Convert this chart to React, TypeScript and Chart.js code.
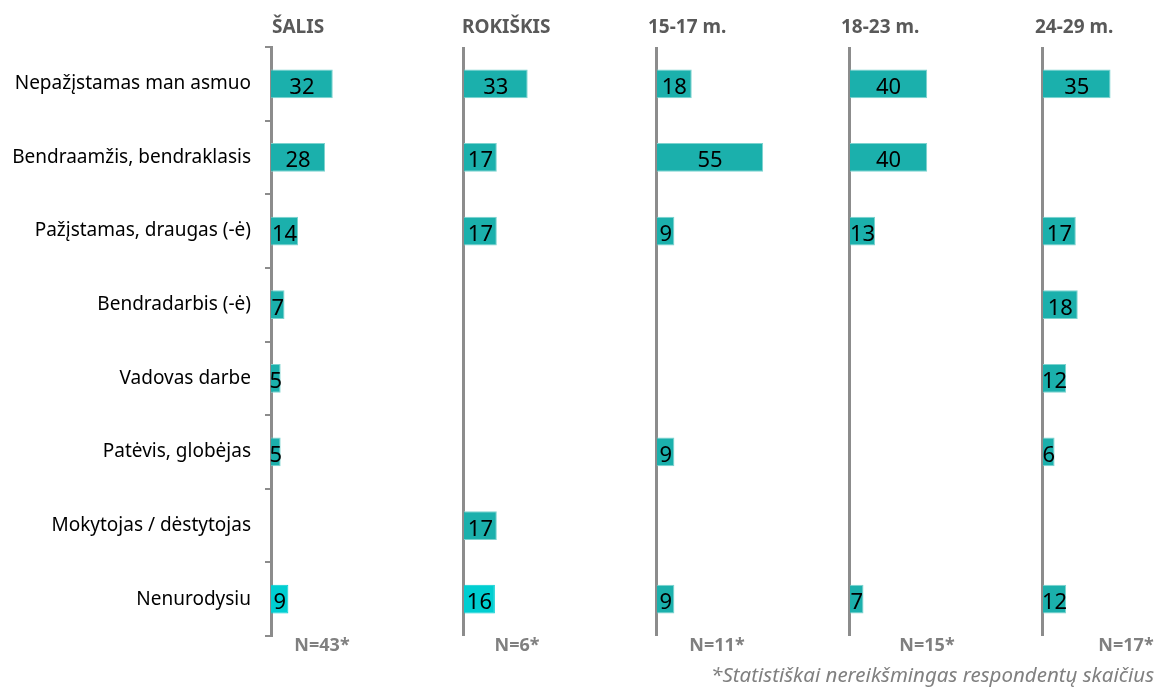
import React, { useEffect, useRef } from 'react';
import { Chart, registerables } from 'chart.js';

Chart.register(...registerables);

const CATEGORIES = [
  'Nepažįstamas man asmuo',
  'Bendraamžis, bendraklasis',
  'Pažįstamas, draugas (-ė)',
  'Bendradarbis (-ė)',
  'Vadovas darbe',
  'Patėvis, globėjas',
  'Mokytojas / dėstytojas',
  'Nenurodysiu',
];
const GROUPS = ['ŠALIS', 'ROKIŠKIS', '15-17 m.', '18-23 m.', '24-29 m.'];
const SAMPLE_SIZES = ['N=43*', 'N=6*', 'N=11*', 'N=15*', 'N=17*'];
const SALIS = [32, 28, 14, 7, 5, 5, null, 9];
const ROKISKIS = [33, 17, 17, null, null, null, 17, 16];
const AGE_15_17 = [18, 55, 9, null, null, 9, null, 9];
const AGE_18_23 = [40, 40, 13, null, null, null, null, 7];
const AGE_24_29 = [35, null, 17, 18, 12, 6, null, 12];
const FOOTNOTE = '*Statistiškai nereikšmingas respondentų skaičius';

const SERIES = [SALIS, ROKISKIS, AGE_15_17, AGE_18_23, AGE_24_29];

// layout / style (not data)
const PANEL_IDS = ['x0', 'x1', 'x2', 'x3', 'x4'];
const PANEL_WEIGHTS = [193, 193, 193, 193, 110];
const PX_PER_UNIT = 1.93;
const HEADER_DX = [1, -2, -9, -9, -8];
const N_CENTER_DX = [51, 53, 60, 77, 83];
const TEAL = '#1BB0AC';
const CYAN = '#00CED1';
const HIGHLIGHT_LAST = [true, true, false, false, false];
const AXIS_GRAY = '#8c8c8c';
const FONT = '"Noto Sans", "DejaVu Sans", sans-serif';

const overlayPlugin = {
  id: 'overlay',
  beforeDatasetsDraw(chart: any) {
    const ctx = chart.ctx;
    const { top, bottom } = chart.chartArea;
    ctx.save();
    ctx.strokeStyle = AXIS_GRAY;
    ctx.lineWidth = 3;
    PANEL_IDS.forEach((id, i) => {
      if (i === 0) return;
      const x = Math.round(chart.scales[id].getPixelForValue(0));
      ctx.beginPath();
      ctx.moveTo(x - 0.5, top);
      ctx.lineTo(x - 0.5, bottom);
      ctx.stroke();
    });
    ctx.restore();
  },
  afterDatasetsDraw(chart: any) {
    const ctx = chart.ctx;
    ctx.save();
    // value labels
    ctx.fillStyle = '#000';
    ctx.font = `22px ${FONT}`;
    ctx.textAlign = 'center';
    ctx.textBaseline = 'alphabetic';
    chart.data.datasets.forEach((ds: any, i: number) => {
      const meta = chart.getDatasetMeta(i);
      meta.data.forEach((bar: any, j: number) => {
        const v = ds.data[j];
        if (v === null || v === undefined) return;
        const p = bar.getProps(['x', 'y', 'base'], true);
        ctx.fillText(String(v), (p.x + p.base) / 2, p.y + 10);
      });
    });
    // headers
    ctx.fillStyle = '#595959';
    ctx.font = `bold 19px ${FONT}`;
    ctx.textAlign = 'left';
    GROUPS.forEach((g, i) => {
      const x0 = chart.scales[PANEL_IDS[i]].getPixelForValue(0);
      ctx.fillText(g, x0 + HEADER_DX[i], 32.5);
    });
    // sample sizes
    ctx.fillStyle = '#808080';
    ctx.font = `bold 18px ${FONT}`;
    ctx.textAlign = 'center';
    SAMPLE_SIZES.forEach((n, i) => {
      const x0 = chart.scales[PANEL_IDS[i]].getPixelForValue(0);
      ctx.fillText(n, x0 + N_CENTER_DX[i], 651);
    });
    // footnote
    ctx.font = `italic 20.5px ${FONT}`;
    ctx.textAlign = 'right';
    ctx.fillText(FOOTNOTE, 1154, 682);
    ctx.restore();
  },
};

export default function App() {
  const ref = useRef<HTMLCanvasElement>(null);
  useEffect(() => {
    if (!ref.current) return;
    const scales: any = {
      y: {
        type: 'category',
        position: 'left',
        offset: true,
        grid: {
          offset: true,
          drawOnChartArea: false,
          drawTicks: true,
          tickLength: 6,
          color: AXIS_GRAY,
          lineWidth: 2,
        },
        border: { display: true, color: AXIS_GRAY, width: 3 },
        ticks: {
          color: '#000',
          font: { family: FONT, size: 19 },
          padding: 14,
          autoSkip: false,
        },
        afterFit: (s: any) => {
          s.width = 271;
        },
      },
    };
    PANEL_IDS.forEach((id, i) => {
      scales[id] = {
        type: 'linear',
        position: 'bottom',
        stack: 'panels',
        stackWeight: PANEL_WEIGHTS[i],
        min: 0,
        max: PANEL_WEIGHTS[i] / PX_PER_UNIT,
        display: false,
      };
    });
    const chart = new Chart(ref.current, {
      type: 'bar',
      data: {
        labels: CATEGORIES,
        datasets: SERIES.map((values, i) => ({
          label: GROUPS[i],
          data: values,
          xAxisID: PANEL_IDS[i],
          yAxisID: 'y',
          grouped: false,
          barPercentage: 0.39,
          categoryPercentage: 1,
          backgroundColor: values.map((_, j) =>
            HIGHLIGHT_LAST[i] && j === values.length - 1 ? CYAN : TEAL
          ),
          borderColor: values.map((_, j) =>
            HIGHLIGHT_LAST[i] && j === values.length - 1 ? CYAN : '#7DD3CF'
          ),
          borderWidth: 1,
        })),
      },
      options: {
        indexAxis: 'y',
        responsive: false,
        animation: false,
        devicePixelRatio: 1,
        layout: { padding: { top: 47, bottom: 53, left: 0, right: 3 } },
        plugins: {
          legend: { display: false },
          tooltip: { enabled: false },
        },
        scales,
      },
      plugins: [overlayPlugin],
    } as any);
    return () => chart.destroy();
  }, []);
  return (
    <div style={{ position: 'absolute', left: 0, top: 0, width: 1156, height: 689, background: '#fff' }}>
      <canvas ref={ref} width={1156} height={689} style={{ display: 'block' }} />
    </div>
  );
}
